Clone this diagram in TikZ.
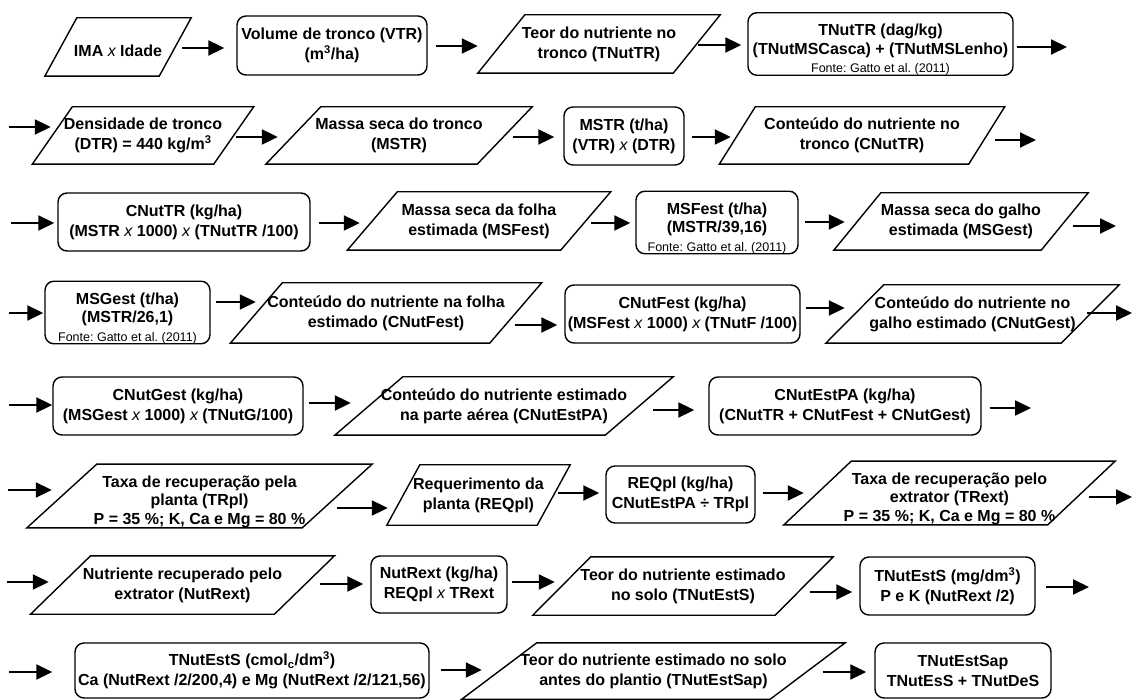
\documentclass[tikz,border=0pt]{standalone}
\usepackage{fontspec}
\setmainfont{Liberation Sans}
\usetikzlibrary{arrows.meta}
\frenchspacing
\newcommand\mx{{\mdseries\itshape x}}
\newcommand\fonte{{\fontsize{12.5}{15}\selectfont\mdseries Fonte: Gatto et al. (2011)}}
\newcommand\tallstrut{\rule{0pt}{23pt}}
\tikzset{
  shp/.style={line width=1.4pt, line join=miter},
  txt/.style={align=center, inner sep=0pt, font=\bfseries\fontsize{16}{20}\selectfont,
    execute at begin node={\rule{0pt}{18.5pt}}},
  ptxt/.style={txt},
  bx/.style={txt, draw, line width=1.4pt, rounded corners=9pt},
  arr/.style={line width=2pt, -{Triangle[length=16pt,width=15pt]}},
}
% parallelogram node: name, cx, cy, side width, height, slant, text
\newcommand\parnode[7]{%
  \node[ptxt, minimum width=#4pt, minimum height=#5pt] (#1) at (#2,#3) {#7};
  \draw[shp] ([xshift=#6pt/2]#1.north west) -- ([xshift=#6pt/2]#1.north east)
    -- ([xshift=-#6pt/2]#1.south east) -- ([xshift=-#6pt/2]#1.south west) -- cycle;}
\begin{document}
\begin{tikzpicture}[x=1pt,y=-1pt]
\fill[white] (0,0) rectangle (1133,700);
\useasboundingbox (0,0) rectangle (1133,700);

% ---------- row 1
\parnode{p1}{118}{47}{114}{58}{32}{IMA \mx{} Idade}
\node[bx, minimum width=190pt, minimum height=59pt] (b1) at (332,45.5) {Volume de tronco (VTR)\\(m\textsuperscript{3}/ha)};
\parnode{p2}{599}{44}{195}{58}{47}{Teor do nutriente no\\tronco (TNutTR)}
\node[bx, minimum width=265pt, minimum height=58pt] (b2) at (880.5,44) {\tallstrut TNutTR (dag/kg)\\[-1.5pt](TNutMSCasca) + (TNutMSLenho)\\[-1.5pt]\fonte};
\coordinate (e1) at (1067,47);
\draw[arr] ([xshift=7pt,yshift=-1pt]p1.east) -- ([xshift=-12pt,yshift=-2.5pt]b1.west);
\draw[arr] ([xshift=8pt,yshift=-0.5pt]b1.east) -- ([xshift=-23.5pt,yshift=-2pt]p2.west);
\draw[arr] ([xshift=1.5pt,yshift=-1pt]p2.east) -- ([xshift=-6pt,yshift=-1pt]b2.west);
\draw[arr] ([xshift=3pt,yshift=-3pt]b2.east) -- (e1);

% ---------- row 2
\coordinate (s2) at (9,127);
\parnode{p3}{143}{135.5}{181}{57}{40}{Densidade de tronco\\(DTR) = 440 kg/m\textsuperscript{3}}
\parnode{p4}{399}{135.5}{211}{57}{55}{Massa seca do tronco\\(MSTR)}
\node[bx, minimum width=120pt, minimum height=58pt] (b3) at (624,136) {MSTR (t/ha)\\(VTR) \mx{} (DTR)};
\parnode{p5}{862}{135.5}{249}{57}{36}{Conteúdo do nutriente no\\tronco (CNutTR)}
\coordinate (e2) at (1036,140);
\draw[arr] (s2) -- ([xshift=-1.5pt,yshift=8.5pt]p3.west);
\draw[arr] ([xshift=2.5pt,yshift=-1.5pt]p3.east) -- ([xshift=-15.5pt,yshift=-1.5pt]p4.west);
\draw[arr] ([xshift=8.5pt,yshift=-1.5pt]p4.east) -- ([xshift=-9pt,yshift=-1pt]b3.west);
\draw[arr] ([xshift=7pt,yshift=-1pt]b3.east) -- ([xshift=-6.5pt,yshift=-1.5pt]p5.west);
\draw[arr] ([xshift=8.5pt,yshift=-4.5pt]p5.east) -- (e2);

% ---------- row 3
\coordinate (s3) at (11,223);
\node[bx, minimum width=252pt, minimum height=58pt] (b4) at (184,222) {CNutTR (kg/ha)\\(MSTR \mx{} 1000) \mx{} (TNutTR /100)};
\parnode{p6}{479}{221}{213}{58}{50}{Massa seca da folha\\estimada (MSFest)}
\node[bx, minimum width=162pt, minimum height=59pt] (b5) at (717,222.5) {\tallstrut MSFest (t/ha)\\[-1.5pt](MSTR/39,16)\\[-1.5pt]\fonte};
\parnode{p7}{961}{221.5}{207}{57}{47}{Massa seca do galho\\estimada (MSGest)}
\coordinate (e3) at (1116,226);
\draw[arr] (s3) -- ([xshift=-3pt,yshift=-1pt]b4.west);
\draw[arr] ([xshift=8pt,yshift=-1pt]b4.east) -- ([xshift=-12.5pt,yshift=-2pt]p6.west);
\draw[arr] ([xshift=5.5pt,yshift=-2pt]p6.east) -- ([xshift=-5pt,yshift=-0.5pt]b5.west);
\draw[arr] ([xshift=6pt,yshift=0.5pt]b5.east) -- ([xshift=-12.5pt,yshift=-0.5pt]p7.west);
\draw[arr] ([xshift=8.5pt,yshift=-4.5pt]p7.east) -- (e3);

% ---------- row 4
\coordinate (s4) at (9,313);
\node[bx, minimum width=165pt, minimum height=59pt] (b6) at (127.5,312.5) {\tallstrut MSGest (t/ha)\\[-1.5pt](MSTR/26,1)\\[-1.5pt]\fonte};
\parnode{p8}{386}{313}{259}{60}{52}{Conteúdo do nutriente na folha\\estimado (CNutFest)}
\node[bx, minimum width=235pt, minimum height=58pt] (b7) at (682.5,314) {CNutFest (kg/ha)\\(MSFest \mx{} 1000) \mx{} (TNutF /100)};
\parnode{p9}{972.5}{314}{235}{58}{58}{Conteúdo do nutriente no\\galho estimado (CNutGest)}
\coordinate (e4) at (1132,313);
\draw[arr] (s4) -- ([xshift=-1pt,yshift=-0.5pt]b6.west);
\draw[arr] ([xshift=5pt,yshift=10.5pt]b6.east) -- ([xshift=-0.5pt,yshift=11pt]p8.west);
\draw[arr] ([xshift=-0.5pt,yshift=-12pt]p8.east) -- ([xshift=-7pt,yshift=-11pt]b7.west);
\draw[arr] ([xshift=5pt,yshift=6pt]b7.east) -- ([xshift=-10pt,yshift=6pt]p9.west);
\draw[arr] ([xshift=-3pt,yshift=1pt]p9.east) -- (e4);

% ---------- row 5
\coordinate (s5) at (9,405);
\node[bx, minimum width=250pt, minimum height=58pt] (b8) at (178,406) {CNutGest (kg/ha)\\(MSGest \mx{} 1000) \mx{} (TNutG/100)};
\parnode{p10}{504}{406}{270}{58}{68}{Conteúdo do nutriente estimado\\na parte aérea (CNutEstPA)}
\node[bx, minimum width=272pt, minimum height=58pt] (b9) at (845,406) {CNutEstPA (kg/ha)\\(CNutTR + CNutFest + CNutGest)};
\coordinate (e5) at (1031,408);
\draw[arr] (s5) -- ([yshift=1pt]b8.west);
\draw[arr] ([xshift=5pt,yshift=3pt]b8.east) -- ([xshift=-18pt,yshift=3pt]p10.west);
\draw[arr] ([xshift=14pt,yshift=-4pt]p10.east) -- ([xshift=-14pt,yshift=-4pt]b9.west);
\draw[arr] ([xshift=8pt,yshift=-2pt]b9.east) -- (e5);

% ---------- row 6
\coordinate (s6) at (8,490);
\parnode{p11}{199.5}{496}{275}{58}{70}{\tallstrut Taxa de recuperação pela\\[-1.5pt]planta (TRpl)\\[-1.5pt]P = 35 \%; K, Ca e Mg = 80 \%}
\parnode{p12}{478.5}{495}{150}{60}{33}{Requerimento da\\planta (REQpl)}
\node[bx, minimum width=149pt, minimum height=57pt] (b10) at (680.5,494.5) {REQpl (kg/ha)\\CNutEstPA ÷ TRpl};
\parnode{p13}{949.5}{493}{263.5}{58}{67.5}{\tallstrut Taxa de recuperação pelo\\[-1.5pt]extrator (TRext)\\[-1.5pt]P = 35 \%; K, Ca e Mg = 80 \%}
\coordinate (e6) at (1132,497);
\draw[arr] (s6) -- ([xshift=-10pt,yshift=6pt]p11.west);
\draw[arr] ([yshift=-12pt]p11.east) -- ([xshift=-15.5pt,yshift=-13pt]p12.west);
\draw[arr] ([xshift=4.5pt,yshift=2pt]p12.east) -- ([xshift=-6pt,yshift=1.5pt]b10.west);
\draw[arr] ([xshift=7pt,yshift=1.5pt]b10.east) -- ([xshift=-13.75pt]p13.west);
\draw[arr] ([xshift=7.75pt,yshift=-4pt]p13.east) -- (e6);

% ---------- row 7
\coordinate (s7) at (7,582);
\parnode{p14}{182.5}{585}{243.5}{58}{60}{Nutriente recuperado pelo\\extrator (NutRext)}
\node[bx, minimum width=136pt, minimum height=57pt] (b11) at (439,584.5) {NutRext (kg/ha)\\REQpl \mx{} TRext};
\parnode{p15}{683}{586}{242}{58}{58}{Teor do nutriente estimado\\no solo (TNutEstS)}
\node[bx, minimum width=175pt, minimum height=58pt] (b12) at (947.5,586) {TNutEstS (mg/dm\textsuperscript{3})\\P e K (NutRext /2)};
\coordinate (e7) at (1089,587);
\draw[arr] (s7) -- ([xshift=-11.75pt,yshift=3pt]p14.west);
\draw[arr] ([xshift=15.75pt,yshift=1pt]p14.east) -- ([xshift=-7pt,yshift=0.5pt]b11.west);
\draw[arr] ([xshift=4pt,yshift=2.5pt]b11.east) -- ([xshift=-7pt,yshift=4pt]p15.west);
\draw[arr] ([xshift=6pt,yshift=-6pt]p15.east) -- ([xshift=-7pt,yshift=-6pt]b12.west);
\draw[arr] ([xshift=10pt,yshift=-1pt]b12.east) -- (e7);

% ---------- row 8
\coordinate (s8) at (9,672);
\node[bx, minimum width=354pt, minimum height=55pt] (b13) at (252,670.5) {TNutEstS (cmol\textsubscript{c}/dm\textsuperscript{3})\\Ca (NutRext /2/200,4) e Mg (NutRext /2/121,56)};
\parnode{p16}{653.5}{671}{308}{56}{75}{Teor do nutriente estimado no solo\\antes do plantio (TNutEstSap)}
\node[bx, minimum width=176pt, minimum height=55pt] (b14) at (963,670.5) {TNutEstSap\\TNutEsS + TNutDeS};
\draw[arr] (s8) -- ([xshift=-22pt,yshift=-1.5pt]b13.west);
\draw[arr] ([xshift=11pt,yshift=0.5pt]b13.east) -- ([xshift=-17.5pt,yshift=1pt]p16.west);
\draw[arr] ([xshift=15.5pt,yshift=-1pt]p16.east) -- ([xshift=-8pt,yshift=-1.5pt]b14.west);
\end{tikzpicture}
\end{document}
